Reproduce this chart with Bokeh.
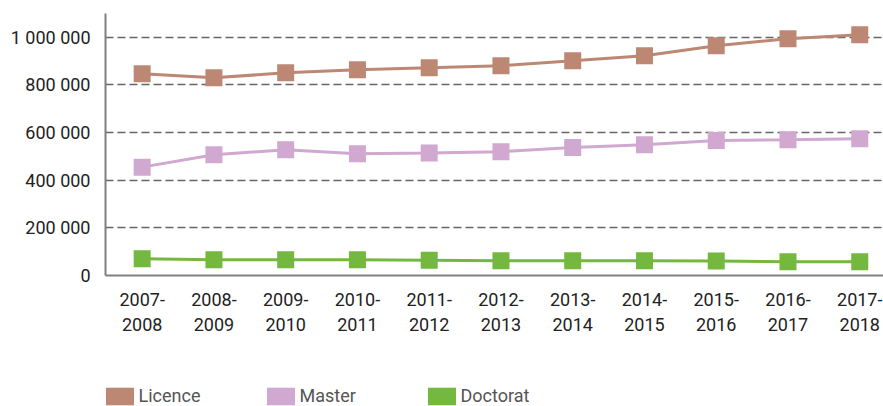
from bokeh.plotting import figure
from bokeh.layouts import column
from bokeh.models import (ColumnDataSource, FixedTicker, Range1d, Legend, LegendItem)
from bokeh.embed import file_html
from bokeh.resources import INLINE

# ---- data ----
years = ["2007-2008", "2008-2009", "2009-2010", "2010-2011", "2011-2012", "2012-2013",
         "2013-2014", "2014-2015", "2015-2016", "2016-2017", "2017-2018"]
licence = [847000, 830000, 851000, 864000, 872000, 881000, 902000, 923000, 965000, 994000, 1011000]
master = [455000, 507000, 528000, 511000, 514000, 520000, 537000, 549000, 567000, 570000, 574000]
doctorat = [70000, 66000, 66000, 66000, 64000, 62000, 62000, 62000, 61000, 58000, 58000]
y_ticks = [0, 200000, 400000, 600000, 800000, 1000000]

series = [("Licence", licence, "#BC8874"),
          ("Master", master, "#D0A8D0"),
          ("Doctorat", doctorat, "#74B840")]

FONT = "Roboto"
xs = list(range(len(years)))

p = figure(frame_width=778, frame_height=262, output_backend="svg", toolbar_location=None,
           x_range=Range1d(-0.511, 10.331), y_range=Range1d(0, 1100000),
           min_border_left=105, min_border_top=13, min_border_right=0, min_border_bottom=60)
p.outline_line_color = None
p.background_fill_color = "white"
p.border_fill_color = "white"

for name, vals, color in series:
    src = ColumnDataSource(dict(x=xs, y=vals))
    p.line("x", "y", source=src, line_color=color, line_width=3)
    p.scatter("x", "y", source=src, marker="square", size=17, fill_color=color, line_color=None)

# axes
p.xaxis.ticker = FixedTicker(ticks=xs)
p.xaxis.major_label_overrides = {i: y.replace("-", "-\n") for i, y in enumerate(years)}
p.yaxis.ticker = FixedTicker(ticks=y_ticks)
p.yaxis.major_label_overrides = {v: f"{v:,}".replace(",", " ") for v in y_ticks}
for ax in (p.xaxis, p.yaxis):
    ax.axis_line_color = "#808080"
    ax.axis_line_width = 2
    ax.major_tick_line_color = None
    ax.minor_tick_line_color = None
    ax.major_tick_out = 0
    ax.major_label_text_font = FONT
    ax.major_label_text_font_size = "18px"
    ax.major_label_text_color = "#222222"
p.yaxis.major_label_standoff = 15
p.xaxis.major_label_standoff = 13

p.xgrid.grid_line_color = None
p.ygrid.ticker = FixedTicker(ticks=y_ticks[1:])
p.ygrid.grid_line_color = "#666666"
p.ygrid.grid_line_width = 1.5
p.ygrid.grid_line_dash = "8 4"

# legend in its own strip below the chart
lf = figure(width=883, height=71, output_backend="svg", toolbar_location=None,
            x_range=Range1d(0, 1), y_range=Range1d(0, 1),
            x_axis_type=None, y_axis_type=None,
            min_border_left=0, min_border_right=0, min_border_top=0, min_border_bottom=0)
lf.outline_line_color = None
lf.grid.visible = False
items = []
nan = float("nan")
for name, vals, color in series:
    # placeholder renderer (NaN coordinates, never drawn) that gives the legend its swatch
    r = lf.quad(left=[nan], right=[nan], top=[nan], bottom=[nan], fill_color=color, line_color=None)
    items.append(LegendItem(label=name, renderers=[r]))
legend = Legend(items=items, orientation="horizontal", location=(-3.5, 1.5),
                glyph_width=35, glyph_height=22, label_standoff=2, label_width=124,
                label_height=22, spacing=0, padding=0, margin=0, border_line_color=None,
                background_fill_alpha=0,
                label_text_font=FONT, label_text_font_size="18px", label_text_color="#555555")
lf.add_layout(legend, "center")

open("out.html", "w").write(file_html(column(p, lf, spacing=0), INLINE))
